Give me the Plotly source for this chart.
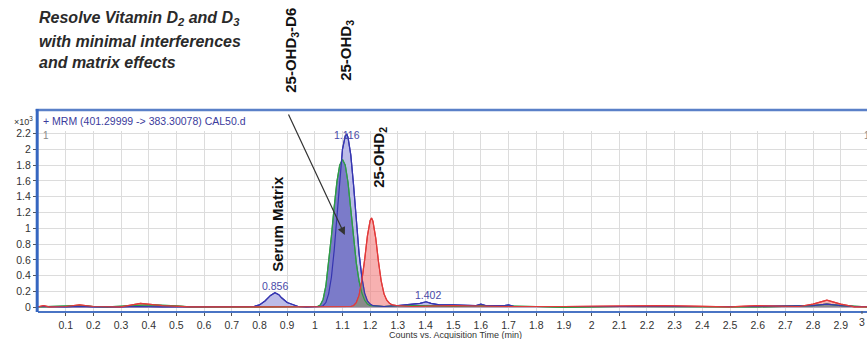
import numpy as np
import plotly.graph_objects as go

# ---------------- data ----------------
# 25-OHD3 (blue trace, CAL50)
blue_t = [0.00, 0.05, 0.10, 0.15, 0.20, 0.30, 0.36, 0.45, 0.55, 0.65, 0.75, 0.78, 0.80, 0.82, 0.84, 0.856, 0.87,
          0.88, 0.90, 0.92, 0.94, 0.97, 1.00, 1.02, 1.03, 1.04, 1.05, 1.06, 1.07, 1.08, 1.09, 1.10, 1.11, 1.116,
          1.12, 1.13, 1.14, 1.15, 1.16, 1.17, 1.18, 1.19, 1.20, 1.21, 1.25, 1.30, 1.33, 1.36, 1.38, 1.402, 1.42,
          1.45, 1.50, 1.58, 1.60, 1.62, 1.68, 1.70, 1.72, 1.80, 2.00, 2.30, 2.60, 2.80, 2.85, 2.90, 2.95, 3.00]
blue_y = [0.01, 0.005, 0.005, 0.01, 0.005, 0.005, 0.01, 0.005, 0.005, 0.005, 0.005, 0.01, 0.03, 0.08, 0.15, 0.185, 0.16,
          0.12, 0.06, 0.03, 0.01, 0.005, 0.005, 0.01, 0.02, 0.06, 0.17, 0.38, 0.72, 1.16, 1.62, 2.00, 2.17, 2.19,
          2.15, 1.93, 1.55, 1.10, 0.68, 0.38, 0.18, 0.08, 0.04, 0.02, 0.01, 0.02, 0.03, 0.04, 0.05, 0.07, 0.05,
          0.03, 0.03, 0.02, 0.04, 0.02, 0.02, 0.03, 0.01, 0.01, 0.01, 0.01, 0.01, 0.02, 0.04, 0.02, 0.01, 0.01]

# 25-OHD3-D6 (green trace)
green_t = [0.00, 0.10, 0.15, 0.20, 0.25, 0.35, 0.40, 0.48, 0.55, 0.70, 0.85, 1.00, 1.01, 1.02, 1.03, 1.04, 1.05,
           1.06, 1.07, 1.08, 1.09, 1.10, 1.11, 1.12, 1.13, 1.14, 1.15, 1.16, 1.17, 1.18, 1.19, 1.20, 1.25, 1.30,
           1.40, 1.50, 1.60, 1.80, 1.90, 2.10, 2.30, 2.60, 2.80, 2.85, 2.90, 3.00]
green_y = [0.005, 0.01, 0.02, 0.01, 0.005, 0.02, 0.03, 0.02, 0.005, 0.005, 0.005, 0.005, 0.01, 0.03, 0.10, 0.27, 0.55,
           0.90, 1.27, 1.59, 1.80, 1.87, 1.80, 1.58, 1.24, 0.88, 0.56, 0.33, 0.18, 0.09, 0.04, 0.02, 0.01, 0.02,
           0.02, 0.01, 0.02, 0.01, 0.00, 0.01, 0.01, 0.005, 0.02, 0.04, 0.02, 0.005]

# 25-OHD2 (red trace)
red_t = [0.00, 0.02, 0.04, 0.10, 0.15, 0.20, 0.30, 0.37, 0.45, 0.55, 0.65, 0.80, 1.00, 1.13, 1.14, 1.15, 1.16,
         1.17, 1.18, 1.19, 1.20, 1.205, 1.21, 1.22, 1.23, 1.24, 1.25, 1.26, 1.27, 1.28, 1.30, 1.35, 1.50, 1.70,
         1.90, 2.25, 2.50, 2.60, 2.75, 2.80, 2.85, 2.90, 2.95, 3.00]
red_y = [0.005, 0.02, 0.005, 0.01, 0.03, 0.01, 0.005, 0.05, 0.02, 0.005, 0.005, 0.005, 0.005, 0.01, 0.02, 0.06, 0.15,
         0.34, 0.60, 0.90, 1.10, 1.13, 1.09, 0.88, 0.58, 0.33, 0.17, 0.09, 0.05, 0.03, 0.02, 0.01, 0.02, 0.01,
         0.01, 0.02, 0.005, 0.02, 0.01, 0.04, 0.09, 0.04, 0.005, 0.005]

# peak annotations (retention time, label height)
peak_labels = ["0.856", "1.116", "1.402"]
peak_x = [0.856, 1.116, 1.41]
peak_y = [0.27, 2.18, 0.157]

x_tickvals = [round(0.1 * i, 1) for i in range(1, 30)]
x_ticktext = ["0.1", "0.2", "0.3", "0.4", "0.5", "0.6", "0.7", "0.8", "0.9", "1", "1.1", "1.2", "1.3", "1.4",
              "1.5", "1.6", "1.7", "1.8", "1.9", "2", "2.1", "2.2", "2.3", "2.4", "2.5", "2.6", "2.7", "2.8",
              "2.9"]
x_last_label = "3"
y_tickvals = [0, 0.2, 0.4, 0.6, 0.8, 1.0, 1.2, 1.4, 1.6, 1.8, 2.0, 2.2]
y_ticktext = ["0", "0.2", "0.4", "0.6", "0.8", "1", "1.2", "1.4", "1.6", "1.8", "2", "2.2"]

# ---------------- layout geometry ----------------
W, H = 867, 339
L, R, T, B = 38.3, 0, 131, 28
PW, PH = W - L - R, H - T - B


def px(x):
    return (x - L) / PW


def py(y):
    return (H - B - y) / PH


fig = go.Figure()

# overlap region of the blue/green peak with the red peak (grey)
grid = np.array(sorted(set(blue_t) | set(green_t) | set(red_t)))
bg = np.maximum(np.interp(grid, blue_t, blue_y), np.interp(grid, green_t, green_y))
rr = np.interp(grid, red_t, red_y)
ov = np.minimum(bg, rr)

fig.add_trace(go.Scatter(x=blue_t, y=blue_y, mode="lines", fill="tozeroy",
                         fillcolor="#bcbce8", line=dict(color="#3535b0", width=1.2)))
fig.add_trace(go.Scatter(x=green_t, y=green_y, mode="lines", fill="tozeroy",
                         fillcolor="#7b7bc9", line=dict(color="#2f9a48", width=1.2)))
fig.add_trace(go.Scatter(x=red_t, y=red_y, mode="lines", fill="tozeroy",
                         fillcolor="rgba(242,125,125,0.6)", line=dict(color="#e23a3a", width=1.2)))
fig.add_trace(go.Scatter(x=grid, y=ov, mode="lines", fill="tozeroy",
                         fillcolor="#8a8a8a", line=dict(width=0)))
# lines on top
fig.add_trace(go.Scatter(x=green_t, y=green_y, mode="lines", line=dict(color="#2f9a48", width=1.2)))
fig.add_trace(go.Scatter(x=blue_t, y=blue_y, mode="lines", line=dict(color="#3535b0", width=1.2)))
fig.add_trace(go.Scatter(x=red_t, y=red_y, mode="lines", line=dict(color="#e23a3a", width=1.2)))

axis_font = dict(family="Liberation Sans, Arial, sans-serif", size=10.5, color="#333333")
fig.update_xaxes(range=[0, PW / 276.7], tickvals=x_tickvals, ticktext=x_ticktext,
                 showgrid=True, gridcolor="#dcdcdc", gridwidth=1, zeroline=False,
                 ticks="outside", ticklen=3, tickcolor="#555555", tickfont=axis_font,
                 showline=True, linecolor="#4a74c4", linewidth=2)
fig.update_yaxes(range=[-(H - B - 307.3) / 79.0, (307.3 - T) / 79.0], tickvals=y_tickvals, ticktext=y_ticktext,
                 showgrid=True, gridcolor="#dcdcdc", gridwidth=1, zeroline=False,
                 ticks="outside", ticklen=4, tickcolor="#555555", tickfont=axis_font,
                 showline=False)

shapes = [
    dict(type="line", xref="paper", yref="paper", x0=px(36), x1=1.01, y0=py(110), y1=py(110),
         line=dict(color="#5a80c8", width=2.5)),
    dict(type="line", xref="paper", yref="paper", x0=px(37.5), x1=px(37.5), y0=py(312), y1=py(109),
         line=dict(color="#3566c0", width=3)),
    dict(type="line", xref="paper", yref="paper", x0=px(862), x1=px(862), y0=py(311), y1=py(314),
         line=dict(color="#555555", width=1)),
]

ann = []
title_font = dict(family="Liberation Sans, Arial", size=16, color="#2a2a2a")
for txt, yy in [("<b><i>Resolve Vitamin D<sub>2</sub> and D<sub>3</sub></i></b>", 18),
                ("<b><i>with minimal interferences</i></b>", 41),
                ("<b><i>and matrix effects</i></b>", 62)]:
    ann.append(dict(text=txt, xref="paper", yref="paper", x=px(37), y=py(yy), xanchor="left",
                    yanchor="middle", showarrow=False, font=title_font))

lab_font = dict(family="Liberation Sans, Arial, sans-serif", size=15, color="#111111")
for txt, cx, cy in [("<b>25-OHD<sub>3</sub>-D6</b>", 291, 50), ("<b>25-OHD<sub>3</sub></b>", 346, 50),
                    ("<b>25-OHD<sub>2</sub></b>", 379, 157), ("<b>Serum Matrix</b>", 277, 224)]:
    ann.append(dict(text=txt, xref="paper", yref="paper", x=px(cx), y=py(cy), xanchor="center",
                    yanchor="middle", textangle=-90, showarrow=False, font=lab_font))

ann.append(dict(text="+ MRM (401.29999 -> 383.30078) CAL50.d", xref="paper", yref="paper", x=px(41), y=py(121),
                xanchor="left", yanchor="middle", showarrow=False,
                font=dict(family="Liberation Sans, Arial", size=10.5, color="#3b3b9c")))
ann.append(dict(text="1", xref="paper", yref="paper", x=px(41), y=py(135), xanchor="left", yanchor="middle",
                showarrow=False, font=dict(family="Liberation Sans, Arial", size=10, color="#888888")))
ann.append(dict(text="1", xref="paper", yref="paper", x=px(862), y=py(135), xanchor="left", yanchor="middle",
                showarrow=False, font=dict(family="Liberation Sans, Arial", size=10, color="#888888")))
ann.append(dict(text="×10<sup>3</sup>", xref="paper", yref="paper", x=px(35), y=py(121), xanchor="right",
                yanchor="middle", showarrow=False, font=dict(family="Liberation Sans, Arial", size=9, color="#333333")))
ann.append(dict(text=x_last_label, xref="paper", yref="paper", x=px(862), y=py(322), xanchor="center",
                yanchor="middle", showarrow=False, font=axis_font))
ann.append(dict(text="Counts vs. Acquisition Time (min)", xref="paper", yref="paper", x=px(456), y=py(334.5),
                xanchor="center", yanchor="middle", showarrow=False,
                font=dict(family="Liberation Sans, Arial", size=9, color="#333333")))

for t, xx, yy in zip(peak_labels, peak_x, peak_y):
    ann.append(dict(text=t, x=xx, y=yy, xref="x", yref="y", showarrow=False, yanchor="middle",
                    font=dict(family="Liberation Sans, Arial", size=10.5, color="#4a4aa8")))

# arrow from the 25-OHD3-D6 label into the peak
ann.append(dict(text="", x=(345 - L) / 276.7, y=(307.3 - 235) / 79.0, xref="x", yref="y",
                ax=-57, ay=-122, showarrow=True, arrowhead=2, arrowsize=1.3, arrowwidth=1.2,
                arrowcolor="#333333"))

fig.update_layout(width=W, height=H, margin=dict(l=L, r=R, t=T, b=B), showlegend=False,
                  plot_bgcolor="white", paper_bgcolor="white", shapes=shapes, annotations=ann)

fig.write_html("out.html", config={"displayModeBar": False},
               post_script="document.body.style.margin='0px';document.body.style.overflow='hidden';")
